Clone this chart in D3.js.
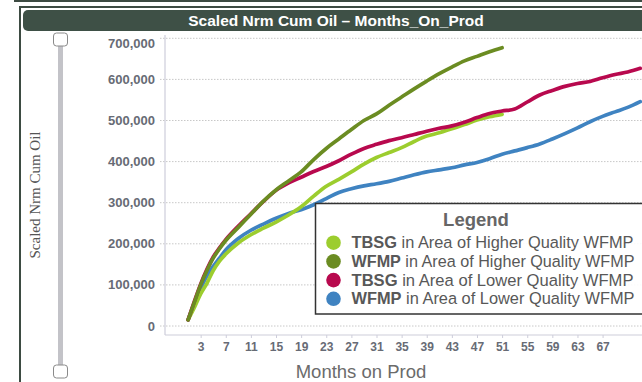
<!doctype html>
<html>
<head>
    <style>
        body { margin: 0; background: #fff; overflow: hidden; }
        text { font-family: Arial, "Liberation Sans", sans-serif; }
        .grid line { stroke: #c8c8c8; stroke-dasharray: 1.5,1.5; }
        .series { fill: none; stroke-width: 3.7; stroke-linejoin: round; stroke-linecap: round; }
    </style>
    <script src="https://d3js.org/d3.v7.min.js"></script>
</head>
<body>
<svg width="642" height="382"></svg>
<script>
// months on prod (x values shared by all series)
var months = [1, 2, 3, 4, 5, 6, 7, 9, 11, 13, 15, 17, 19, 21, 23, 25, 27, 29, 31, 33, 35, 37, 39,
              41, 43, 45, 47, 49, 51, 53, 55, 57, 59, 61, 63, 65, 67, 69, 71, 73];

// scaled cum oil
var tbsgHigher = [15000, 45000, 78000, 104000, 135000, 158000, 175000, 202000, 222000, 238000, 253000,
                  270000, 290000, 316000, 340000, 357000, 375000, 394000, 410000, 422000, 434000,
                  449000, 462000, 470000, 480000, 490000, 501000, 509000, 515000];
var wfmpHigher = [15000, 58000, 100000, 135000, 165000, 188000, 208000, 240000, 272000, 304000, 331000,
                  353000, 375000, 405000, 432000, 455000, 478000, 500000, 516000, 537000, 557000,
                  577000, 596000, 614000, 630000, 645000, 656000, 667000, 677000];
var tbsgLower = [15000, 60000, 102000, 138000, 168000, 190000, 210000, 243000, 273000, 303000, 330000,
                 348000, 362000, 376000, 388000, 402000, 418000, 432000, 442000, 451000, 458000,
                 466000, 474000, 481000, 487000, 496000, 507000, 517000, 523000, 528000, 545000,
                 562000, 573000, 583000, 590000, 595000, 604000, 612000, 618000, 627000];
var wfmpLower = [15000, 55000, 92000, 122000, 145000, 165000, 185000, 213000, 233000, 248000, 262000,
                 274000, 283000, 295000, 310000, 325000, 334000, 341000, 346000, 352000, 360000,
                 368000, 375000, 380000, 385000, 392000, 398000, 407000, 418000, 426000, 434000,
                 443000, 455000, 468000, 482000, 497000, 510000, 521000, 532000, 546000];

var xTicks = [3, 7, 11, 15, 19, 23, 27, 31, 35, 39, 43, 47, 51, 55, 59, 63, 67];
var yTicks = [0, 100000, 200000, 300000, 400000, 500000, 600000, 700000];

var seriesNames = ["TBSG", "WFMP", "TBSG", "WFMP"];
var seriesAreas = ["in Area of Higher Quality WFMP", "in Area of Higher Quality WFMP",
                   "in Area of Lower Quality WFMP", "in Area of Lower Quality WFMP"];
var seriesColors = ["#9ccd2e", "#6b8c22", "#b8094e", "#3f83c1"];
var seriesValues = [tbsgHigher, wfmpHigher, tbsgLower, wfmpLower];

var svg = d3.select("svg");
var frameColor = "#3d4b42";

// outer frame + title bar
svg.append("rect").attr("x", 14).attr("y", 0).attr("width", 640).attr("height", 2).attr("fill", frameColor);
svg.append("rect").attr("x", 19).attr("y", 6).attr("width", 2).attr("height", 380).attr("fill", frameColor);
svg.append("rect").attr("x", 19).attr("y", 6).attr("width", 640).attr("height", 2).attr("fill", frameColor);
svg.append("rect")
   .attr("x", 23).attr("y", 10).attr("width", 640).attr("height", 21).attr("rx", 5)
   .attr("fill", "#3e5046");
svg.append("text")
   .attr("x", 336).attr("y", 26)
   .attr("text-anchor", "middle")
   .attr("fill", "#fff")
   .attr("font-weight", "bold")
   .attr("font-size", "15.5px")
   .text("Scaled Nrm Cum Oil \u2013 Months_On_Prod");

// range slider on the left
svg.append("rect").attr("x", 58).attr("y", 40).attr("width", 5).attr("height", 330).attr("fill", "#c3c3c8");
[33, 365].forEach(function(top) {
    svg.append("rect")
       .attr("x", 53.5).attr("y", top).attr("width", 14).attr("height", 13).attr("rx", 3)
       .attr("fill", "#fff").attr("stroke", "#8a8a8a").attr("stroke-width", 1);
});

// y axis title (serif, rotated)
svg.append("text")
   .attr("transform", "translate(40,195) rotate(-90)")
   .attr("text-anchor", "middle")
   .attr("fill", "#555")
   .attr("font-size", "15px")
   .style("font-family", "'Liberation Serif', 'Times New Roman', serif")
   .text("Scaled Nrm Cum Oil");

// scales
var x = d3.scaleLinear().domain([1, 81]).range([188.1, 188.1 + 80 * 6.28]);
var y = d3.scaleLinear().domain([0, 700000]).range([326, 38.3]);

var plotLeft = 165, plotBottom = 335, plotRight = 700;

// gridlines
svg.append("g").attr("class", "grid")
   .selectAll("line")
   .data(yTicks)
   .enter().append("line")
   .attr("x1", plotLeft - 5).attr("x2", plotRight)
   .attr("y1", function(d) { return y(d); })
   .attr("y2", function(d) { return y(d); });

// axis lines
svg.append("line").attr("x1", plotLeft).attr("x2", plotLeft).attr("y1", 35).attr("y2", plotBottom)
   .attr("stroke", "#cdcdda").attr("stroke-width", 1.2);
svg.append("line").attr("x1", plotLeft).attr("x2", plotRight).attr("y1", plotBottom).attr("y2", plotBottom)
   .attr("stroke", "#cdcdda").attr("stroke-width", 1.2);

// y tick labels
svg.append("g").selectAll("text")
   .data(yTicks)
   .enter().append("text")
   .attr("x", 155)
   .attr("y", function(d) { return Math.max(y(d), 43) + 4.5; })
   .attr("text-anchor", "end")
   .attr("fill", "#676b75")
   .attr("font-weight", "bold")
   .attr("font-size", "13px")
   .text(function(d) { return d3.format(",")(d); });

// x axis ticks + labels
var xAxis = svg.append("g").attr("transform", "translate(0," + plotBottom + ")")
   .call(d3.axisBottom(x).tickValues(xTicks).tickSize(3).tickPadding(4));
xAxis.select(".domain").remove();
xAxis.selectAll(".tick line").attr("stroke", "#cdcdda");
xAxis.selectAll(".tick text")
     .attr("fill", "#676b75")
     .attr("font-weight", "bold")
     .attr("font-size", "12px")
     .style("font-family", "Arial, 'Liberation Sans', sans-serif");

svg.append("text")
   .attr("x", 361).attr("y", 378)
   .attr("text-anchor", "middle")
   .attr("fill", "#6b6b6b")
   .attr("font-size", "18.5px")
   .text("Months on Prod");

// series lines
var line = d3.line()
    .x(function(d, i) { return x(months[i]); })
    .y(function(d) { return y(d); })
    .curve(d3.curveMonotoneX);

[3, 0, 2, 1].forEach(function(k) {
    svg.append("path")
       .datum(seriesValues[k])
       .attr("class", "series")
       .attr("stroke", seriesColors[k])
       .attr("d", line);
});

// legend
var legend = svg.append("g");
legend.append("rect")
   .attr("x", 315.5).attr("y", 203.5).attr("width", 400).attr("height", 110.5)
   .attr("fill", "#fff").attr("fill-opacity", 0.9)
   .attr("stroke", "#333").attr("stroke-width", 1.5);
legend.append("text")
   .attr("x", 476).attr("y", 226)
   .attr("text-anchor", "middle")
   .attr("fill", "#666")
   .attr("font-weight", "bold")
   .attr("font-size", "18.5px")
   .text("Legend");

var rows = legend.selectAll(".row")
   .data(seriesNames)
   .enter().append("g")
   .attr("class", "row")
   .attr("transform", function(d, i) { return "translate(0," + (242.7 + i * 18.7) + ")"; });
rows.append("circle")
   .attr("cx", 333.5).attr("cy", 0).attr("r", 7.3)
   .attr("fill", function(d, i) { return seriesColors[i]; });
var rowText = rows.append("text")
   .attr("x", 351.5).attr("y", 5.6)
   .attr("fill", "#585858")
   .attr("font-size", "16.3px")
   .attr("textLength", function(d, i) { return i % 2 ? 283 : 282; })
   .attr("lengthAdjust", "spacingAndGlyphs");
rowText.append("tspan").attr("font-weight", "bold").text(function(d) { return d; });
rowText.append("tspan").text(function(d, i) { return " " + seriesAreas[i]; });
</script>
</body>
</html>
